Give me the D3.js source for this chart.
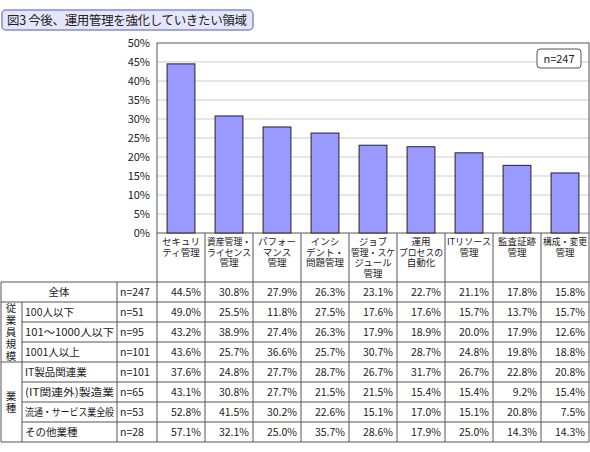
<!DOCTYPE html>
<html>
<head>
<meta charset="utf-8">
<script src="https://cdn.jsdelivr.net/npm/d3@7"></script>
<style>
body { margin: 0; background: #fff; font-family: "Noto Sans CJK JP", sans-serif; }
text { font-family: "Noto Sans CJK JP", sans-serif; fill: #222; }
</style>
</head>
<body>
<svg id="chart" width="590" height="452"></svg>
<script>
var categories = [
  ["セキュリ", "ティ管理"],
  ["資産管理・", "ライセンス", "管理"],
  ["パフォー", "マンス", "管理"],
  ["インシ", "デント・", "問題管理"],
  ["ジョブ", "管理・スケ", "ジュール", "管理"],
  ["運用", "プロセスの", "自動化"],
  ["ITリソース", "管理"],
  ["監査証跡", "管理"],
  ["構成・変更", "管理"]
];
var rowLabels = ["全体", "100人以下", "101～1000人以下", "1001人以上", "IT製品関連業", "(IT関連外)製造業", "流通・サービス業全般", "その他業種"];
var rowN = ["n=247", "n=51", "n=95", "n=101", "n=101", "n=65", "n=53", "n=28"];
var groups = [{label: "従業員規模", from: 1, to: 3}, {label: "業種", from: 4, to: 7}];
var values = [
  [44.5, 30.8, 27.9, 26.3, 23.1, 22.7, 21.1, 17.8, 15.8],
  [49.0, 25.5, 11.8, 27.5, 17.6, 17.6, 15.7, 13.7, 15.7],
  [43.2, 38.9, 27.4, 26.3, 17.9, 18.9, 20.0, 17.9, 12.6],
  [43.6, 25.7, 36.6, 25.7, 30.7, 28.7, 24.8, 19.8, 18.8],
  [37.6, 24.8, 27.7, 28.7, 26.7, 31.7, 26.7, 22.8, 20.8],
  [43.1, 30.8, 27.7, 21.5, 21.5, 15.4, 15.4, 9.2, 15.4],
  [52.8, 41.5, 30.2, 22.6, 15.1, 17.0, 15.1, 20.8, 7.5],
  [57.1, 32.1, 25.0, 35.7, 28.6, 17.9, 25.0, 14.3, 14.3]
];
var yTicks = [0, 5, 10, 15, 20, 25, 30, 35, 40, 45, 50];

var svg = d3.select("#chart");
var plotLeft = 157, plotRight = 589, plotTop = 43, plotBottom = 233;
var x = d3.scaleBand().domain(d3.range(categories.length)).range([plotLeft, plotRight]).paddingInner(0.42).paddingOuter(0.21);
var xCol = d3.scaleBand().domain(d3.range(categories.length)).range([plotLeft, plotRight]);
var y = d3.scaleLinear().domain([0, 50]).range([plotBottom, plotTop]);

// title
svg.append("rect").attr("x", 2).attr("y", 10).attr("width", 251).attr("height", 20).attr("rx", 4)
  .attr("fill", "#e6e6fa").attr("stroke", "#8888dd").attr("stroke-width", 1.5);
svg.append("text").attr("x", 7).attr("y", 25).attr("font-size", 12.5).attr("textLength", 240).text("図3 今後、運用管理を強化していきたい領域");

// grid
svg.append("g").selectAll("line").data(yTicks.slice(1, -1)).join("line")
  .attr("x1", plotLeft).attr("x2", plotRight).attr("y1", d => y(d)).attr("y2", d => y(d))
  .attr("stroke", "#ccc");
svg.append("rect").attr("x", plotLeft).attr("y", plotTop).attr("width", plotRight - plotLeft).attr("height", plotBottom - plotTop)
  .attr("fill", "none").attr("stroke", "#555");

svg.append("g").attr("transform", "translate(" + (plotLeft - 4) + ",0)")
  .call(d3.axisLeft(y).tickValues(yTicks).tickSize(0).tickFormat(d => d + "%"))
  .call(g => g.select(".domain").remove())
  .selectAll("text").attr("font-size", 11);

// bars
svg.append("g").selectAll("rect").data(values[0]).join("rect")
  .attr("x", (d, i) => x(i)).attr("width", x.bandwidth())
  .attr("y", d => y(d)).attr("height", d => plotBottom - y(d))
  .attr("fill", "#9999ff").attr("stroke", "#222").attr("stroke-width", 1);

// n box
svg.append("rect").attr("x", 537).attr("y", 49).attr("width", 44).attr("height", 19).attr("rx", 3)
  .attr("fill", "#fff").attr("stroke", "#555");
svg.append("text").attr("x", 559).attr("y", 63).attr("text-anchor", "middle").attr("font-size", 11).text("n=247");

// table
var rowH = 20, headBottom = 282, tableBottom = headBottom + rowH * rowLabels.length;
var tg = svg.append("g").attr("stroke", "#555").attr("stroke-width", 1);
xCol.domain().forEach(function (i) {
  tg.append("line").attr("x1", xCol(i)).attr("x2", xCol(i)).attr("y1", plotBottom).attr("y2", tableBottom);
});
tg.append("line").attr("x1", plotRight).attr("x2", plotRight).attr("y1", plotBottom).attr("y2", tableBottom);
tg.append("line").attr("x1", 117).attr("x2", 117).attr("y1", headBottom).attr("y2", tableBottom);
tg.append("line").attr("x1", 1).attr("x2", 1).attr("y1", headBottom).attr("y2", tableBottom);
tg.append("line").attr("x1", 22).attr("x2", 22).attr("y1", headBottom + rowH).attr("y2", tableBottom);
d3.range(rowLabels.length + 1).forEach(function (r) {
  var yy = headBottom + r * rowH;
  var x0 = (r >= 2 && r <= 3) || (r >= 5 && r <= 7) ? 22 : 1;
  tg.append("line").attr("x1", x0).attr("x2", plotRight).attr("y1", yy).attr("y2", yy);
});

// header labels
categories.forEach(function (lines, i) {
  var t = svg.append("text").attr("text-anchor", "middle").attr("font-size", 9.5);
  lines.forEach(function (s, k) {
    var ts = t.append("tspan").attr("x", xCol(i) + xCol.bandwidth() / 2).attr("y", 245 + k * 10.5).text(s);
    if (s.length >= 5) ts.attr("textLength", 44).attr("lengthAdjust", "spacingAndGlyphs");
  });
});

// rows
rowLabels.forEach(function (lab, r) {
  var cy = headBottom + r * rowH + 14;
  var t = svg.append("text").attr("x", r === 0 ? 59 : 25).attr("y", cy).attr("font-size", 10.5)
    .attr("text-anchor", r === 0 ? "middle" : "start").text(lab);
  if (lab.length >= 9) t.attr("textLength", 89).attr("lengthAdjust", "spacingAndGlyphs");
  svg.append("text").attr("x", 120).attr("y", cy).attr("font-size", 10.5).text(rowN[r]);
  values[r].forEach(function (v, i) {
    svg.append("text").attr("x", xCol(i) + xCol.bandwidth() - 4).attr("y", cy)
      .attr("text-anchor", "end").attr("font-size", 10.5).text(v.toFixed(1) + "%");
  });
});

// group labels (vertical)
groups.forEach(function (g) {
  var y0 = headBottom + g.from * rowH, y1 = headBottom + (g.to + 1) * rowH;
  var chars = g.label.split("");
  var t = svg.append("text").attr("text-anchor", "middle").attr("font-size", 10.5);
  var start = (y0 + y1) / 2 - chars.length * 12 / 2 + 10;
  chars.forEach(function (c, k) {
    t.append("tspan").attr("x", 11).attr("y", start + k * 12).text(c);
  });
});
</script>
</body>
</html>
